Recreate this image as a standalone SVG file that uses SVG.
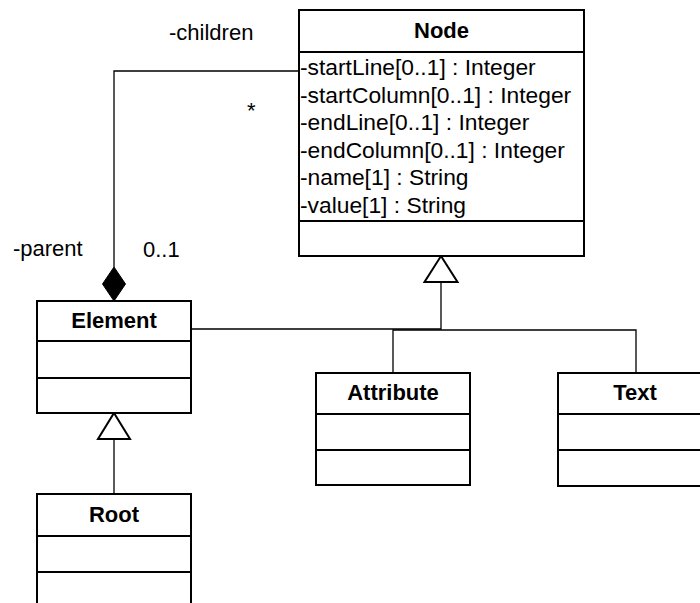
<svg xmlns="http://www.w3.org/2000/svg" width="700" height="603" viewBox="0 0 700 603">
<style>
.box{fill:#fff;stroke:#000;stroke-width:2}
.div{stroke:#000;stroke-width:2}
.t{font-family:"Liberation Sans",Arial,sans-serif;font-size:22px;fill:#000}
.a{font-size:22.8px}
.b{font-weight:bold;text-anchor:middle}
.c{fill:none;stroke:#000;stroke-width:1.3}
.tri{fill:#fff;stroke:#000;stroke-width:2}
</style>
<rect width="700" height="603" fill="#fff"/>
<g id="connectors">
<path class="c" d="M299,71 H114 V267"/>
<path d="M114,267 L125.5,284 L114,301 L102.5,284 Z" fill="#000" stroke="#000" stroke-width="1"/>
<path class="c" d="M191,329 H441 V282"/>
<path class="c" d="M393,373 V330 H636 V373"/>
<path class="tri" d="M441,256 L457.5,282 L424.5,282 Z"/>
<path class="c" d="M114,439 V494"/>
<path class="tri" d="M114,413 L130,439 L98,439 Z"/>
<text class="t" x="169" y="40">-children</text>
<text class="t" x="247" y="118">*</text>
<text class="t" x="13" y="256">-parent</text>
<text class="t" x="143" y="257">0..1</text>
</g>
<g id="node-Node">
<rect class="box" x="299" y="10" width="285" height="246"/>
<line class="div" x1="299" y1="52" x2="584" y2="52"/>
<line class="div" x1="299" y1="221" x2="584" y2="221"/>
<text class="t b" x="441.5" y="38">Node</text>
<text class="t a" x="300" y="75">-startLine[0..1] : Integer</text>
<text class="t a" x="300" y="102.5">-startColumn[0..1] : Integer</text>
<text class="t a" x="300" y="130">-endLine[0..1] : Integer</text>
<text class="t a" x="300" y="157.5">-endColumn[0..1] : Integer</text>
<text class="t a" x="300" y="185">-name[1] : String</text>
<text class="t a" x="300" y="212.5">-value[1] : String</text>
</g>
<g id="node-Element">
<rect class="box" x="37" y="301" width="154" height="112"/>
<line class="div" x1="37" y1="341" x2="191" y2="341"/>
<line class="div" x1="37" y1="378" x2="191" y2="378"/>
<text class="t b" x="114" y="328">Element</text>
</g>
<g id="node-Root">
<rect class="box" x="37" y="494" width="154" height="120"/>
<line class="div" x1="37" y1="536" x2="191" y2="536"/>
<line class="div" x1="37" y1="572" x2="191" y2="572"/>
<text class="t b" x="114" y="522">Root</text>
</g>
<g id="node-Attribute">
<rect class="box" x="316" y="373" width="154" height="112"/>
<line class="div" x1="316" y1="414" x2="470" y2="414"/>
<line class="div" x1="316" y1="450" x2="470" y2="450"/>
<text class="t b" x="393" y="400">Attribute</text>
</g>
<g id="node-Text">
<rect class="box" x="558" y="373" width="154" height="113"/>
<line class="div" x1="558" y1="414" x2="712" y2="414"/>
<line class="div" x1="558" y1="450" x2="712" y2="450"/>
<text class="t b" x="635" y="400">Text</text>
</g>
</svg>
